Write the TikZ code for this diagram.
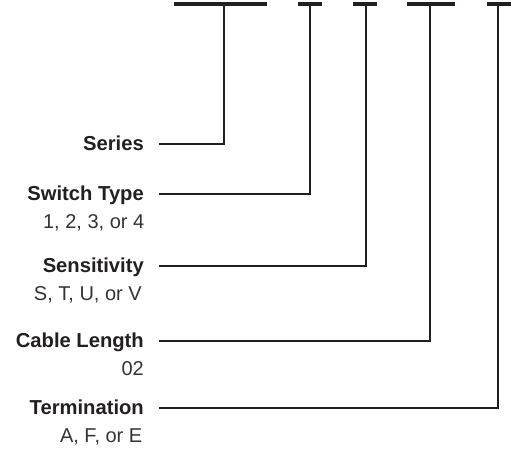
\documentclass[tikz,border=0pt]{standalone}
\usepackage{fontspec}
\setmainfont{Liberation Sans}
\definecolor{ink}{HTML}{231F20}
\definecolor{subink}{HTML}{333333}
\begin{document}
\begin{tikzpicture}[x=1pt,y=-1pt,
  bar/.style={fill=ink, draw=none, inner sep=0pt, outer sep=0pt, minimum height=4.6pt, anchor=north west},
  conn/.style={draw=ink, line width=2.2pt, line join=miter},
  lab/.style={anchor=base east, inner sep=0pt, text=ink, font=\fontsize{20.2}{24}\selectfont\bfseries},
  sub/.style={anchor=base east, inner sep=0pt, text=subink, font=\fontsize{20}{24}\selectfont}]
\useasboundingbox (0,0) rectangle (512,448);
% bars
\node[bar, minimum width=92.4pt] (b1) at (174.3,1.7) {};
\node[bar, minimum width=24.6pt] (b2) at (297.7,1.7) {};
\node[bar, minimum width=24pt]   (b3) at (353.3,1.7) {};
\node[bar, minimum width=47.7pt] (b4) at (407.3,1.7) {};
\node[bar, minimum width=24.3pt] (b5) at (486.7,1.7) {};
% drop points in bars
\coordinate (d1) at (224.3,4);
\coordinate (d2) at (310,4);
\coordinate (d3) at (365.7,4);
\coordinate (d4) at (430,4);
\coordinate (d5) at (497.7,4);
% labels
\node[lab] (n1) at (144,150.5) {Series};
\node[lab] (n2) at (144,200.5) {Switch Type};
\node[sub] (m2) at (144.5,228.5) {1, 2, 3, or 4};
\node[lab] (n3) at (144,272.5) {Sensitivity};
\node[sub] (m3) at (142,300.5) {S, T, U, or V};
\node[lab] (n4) at (144,347.5) {Cable Length};
\node[sub] (m4) at (144,375.5) {02};
\node[lab] (n5) at (144,414) {Termination};
\node[sub] (m5) at (142.5,442) {A, F, or E};
% line starts
\coordinate (s1) at (158.5,144);
\coordinate (s2) at (158.5,194);
\coordinate (s3) at (158.5,266);
\coordinate (s4) at (158.5,341);
\coordinate (s5) at (158.5,407.7);
% connectors
\draw[conn] (s1) -| (d1);
\draw[conn] (s2) -| (d2);
\draw[conn] (s3) -| (d3);
\draw[conn] (s4) -| (d4);
\draw[conn] (s5) -| (d5);
\end{tikzpicture}
\end{document}
